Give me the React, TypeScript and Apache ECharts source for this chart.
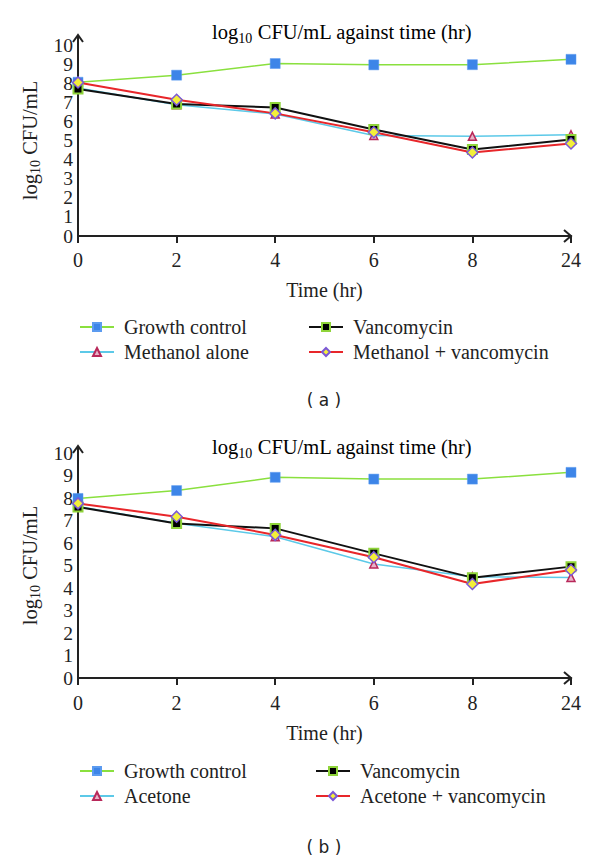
import React, { useEffect, useRef } from "react";
import * as echarts from "echarts";

const categories = ["0", "2", "4", "6", "8", "24"];

// Panel (a)
const growthA = [8.05, 8.42, 9.03, 8.96, 8.97, 9.25];
const methanolA = [7.75, 6.87, 6.39, 5.26, 5.22, 5.3];
const vancoA = [7.7, 6.91, 6.73, 5.58, 4.53, 5.05];
const methVancA = [8.04, 7.13, 6.42, 5.43, 4.37, 4.84];

// Panel (b)
const growthB = [7.98, 8.33, 8.92, 8.84, 8.84, 9.14];
const acetoneB = [7.62, 6.88, 6.28, 5.07, 4.5, 4.47];
const vancoB = [7.6, 6.87, 6.65, 5.54, 4.46, 4.95];
const aceVancB = [7.76, 7.17, 6.36, 5.37, 4.18, 4.8];

const SERIF = "'Liberation Serif', 'Times New Roman', serif";
const INK = "#222";

const GL = 78;
const GW = 493;
const gridA = { top: 45, height: 191 };
const gridB = { top: 453, height: 225 };

const richName = {
  a: { fontFamily: SERIF, fontSize: 20.5, fontWeight: "normal", color: INK, lineHeight: 26 },
  s: { fontFamily: SERIF, fontSize: 14, fontWeight: "normal", color: INK, lineHeight: 14, verticalAlign: "bottom" },
};

const styles: Record<string, any> = {
  growth: {
    symbol: "rect",
    symbolSize: 10,
    itemStyle: { color: "#3d85e8", borderColor: "#5b9bf0", borderWidth: 0.5 },
    lineStyle: { color: "#8ae03e", width: 1.5 },
  },
  solvent: {
    symbol: "triangle",
    symbolSize: 8,
    itemStyle: { color: "#e8b3c8", borderColor: "#b8285a", borderWidth: 1.5 },
    lineStyle: { color: "#5cc9e8", width: 1.5 },
  },
  vanco: {
    symbol: "rect",
    symbolSize: 9,
    itemStyle: { color: "#000", borderColor: "#8fd43a", borderWidth: 2 },
    lineStyle: { color: "#111", width: 2 },
  },
  combo: {
    symbol: "diamond",
    symbolSize: 11,
    itemStyle: { color: "#f3ef3a", borderColor: "#7b58d6", borderWidth: 1.5 },
    lineStyle: { color: "#e8262a", width: 2 },
  },
};

function mk(name: string, data: number[], kind: string, idx: number) {
  return {
    type: "line",
    name,
    data,
    xAxisIndex: idx,
    yAxisIndex: idx,
    showSymbol: true,
    ...styles[kind],
  };
}

function xAxis(idx: number, gap: number, margin: number) {
  return {
    type: "category",
    gridIndex: idx,
    data: categories,
    boundaryGap: false,
    axisLine: { lineStyle: { color: INK, width: 2 } },
    axisTick: { show: true, length: 7, lineStyle: { color: INK, width: 2 } },
    axisLabel: { fontFamily: SERIF, fontSize: 20, color: INK, margin },
    splitLine: { show: false },
    name: "Time (hr)",
    nameLocation: "middle",
    nameGap: gap,
    nameTextStyle: { fontFamily: SERIF, fontSize: 20, color: INK },
  };
}

// parity: -1 = all labels, 0 = even only, 1 = odd only (overlaid helper axis)
function yAxis(idx: number, parity: number) {
  const helper = parity === 1;
  return {
    type: "value",
    gridIndex: idx,
    position: "left",
    offset: 0,
    min: 0,
    max: 10,
    interval: 1,
    axisLine: { show: !helper, onZero: false, lineStyle: { color: INK, width: 2 } },
    axisTick: { show: false },
    axisLabel: {
      fontFamily: SERIF,
      fontSize: 19.5,
      color: INK,
      margin: 5,
      hideOverlap: false,
      showMinLabel: true,
      showMaxLabel: true,
      formatter: (v: number) =>
        parity < 0 || Math.round(v) % 2 === parity ? String(v) : "",
    },
    splitLine: { show: false },
    name: helper ? "" : "{a|log}{s|10}{a| CFU/mL}",
    nameLocation: "middle",
    nameRotate: 90,
    nameGap: 33,
    nameTextStyle: { fontFamily: SERIF, rich: richName },
  };
}

function legend(left: number, top: number, gap: number, names: string[]) {
  return {
    orient: "vertical",
    left,
    top,
    padding: 0,
    itemWidth: 34,
    itemHeight: 10,
    itemGap: gap,
    data: names,
    selectedMode: false,
    formatter: (n: string) => "{t|" + n + "}",
    textStyle: {
      fontFamily: SERIF,
      fontSize: 20,
      color: INK,
      rich: {
        t: { fontFamily: SERIF, fontSize: 20, color: INK, lineHeight: 21, padding: [0, 0, 0, 5] },
      },
    },
  };
}

function arrows(top: number, height: number, ext: number) {
  const x0 = GL;
  const yAxisTop = top - ext;
  const bottom = top + height;
  const xr = GL + GW;
  const ls = { stroke: INK, lineWidth: 2, fill: null };
  return [
    { type: "line", shape: { x1: x0, y1: top, x2: x0, y2: yAxisTop }, style: ls },
    {
      type: "polyline",
      shape: { points: [[x0 - 5, yAxisTop + 7], [x0, yAxisTop], [x0 + 5, yAxisTop + 7]] },
      style: ls,
    },
    {
      type: "polyline",
      shape: { points: [[xr - 7, bottom - 6], [xr, bottom], [xr - 7, bottom + 6]] },
      style: ls,
    },
  ];
}

function titleText(y: number) {
  return {
    type: "text",
    x: 342,
    y,
    style: {
      text: "{a|log}{s|10}{a| CFU/mL against time (hr)}",
      rich: richName,
      fontFamily: SERIF,
      fontWeight: "normal",
      align: "center",
      verticalAlign: "middle",
    },
  };
}

function caption(text: string, y: number) {
  return {
    type: "text",
    x: 324,
    y,
    style: {
      text,
      font: "17px 'DejaVu Sans'",
      fill: INK,
      align: "center",
      verticalAlign: "middle",
    },
  };
}

export default function App() {
  const ref = useRef<HTMLDivElement>(null);
  useEffect(() => {
    if (!ref.current) return;
    const chart = echarts.init(ref.current, undefined, { renderer: "svg" });
    chart.setOption({
      animation: false,
      backgroundColor: "#fff",
      textStyle: { fontFamily: SERIF },
      grid: [
        { left: GL, width: GW, top: gridA.top, height: gridA.height },
        { left: GL, width: GW, top: gridB.top, height: gridB.height },
      ],
      xAxis: [xAxis(0, 44, 14), xAxis(1, 45, 15)],
      yAxis: [yAxis(0, 0), yAxis(1, -1), yAxis(0, 1)],
      legend: [
        legend(79, 317, 5, ["Growth control", "Methanol alone"]),
        legend(308, 317, 5, ["Vancomycin", "Methanol + vancomycin"]),
        legend(79, 761, 5, ["Growth control", "Acetone"]),
        legend(315, 761, 5, ["Vancomycin", "Acetone + vancomycin"]),
      ],
      series: [
        mk("Growth control", growthA, "growth", 0),
        mk("Methanol alone", methanolA, "solvent", 0),
        mk("Vancomycin", vancoA, "vanco", 0),
        mk("Methanol + vancomycin", methVancA, "combo", 0),
        mk("Growth control", growthB, "growth", 1),
        mk("Acetone", acetoneB, "solvent", 1),
        mk("Vancomycin", vancoB, "vanco", 1),
        mk("Acetone + vancomycin", aceVancB, "combo", 1),
      ],
      graphic: [
        ...arrows(gridA.top, gridA.height, 10),
        ...arrows(gridB.top, gridB.height, 7),
        titleText(32),
        titleText(447),
        caption("( a )", 400),
        caption("( b )", 847),
      ],
    });
    return () => chart.dispose();
  }, []);
  return (
    <div
      ref={ref}
      style={{ position: "absolute", left: 0, top: 0, width: 600, height: 862 }}
    />
  );
}
